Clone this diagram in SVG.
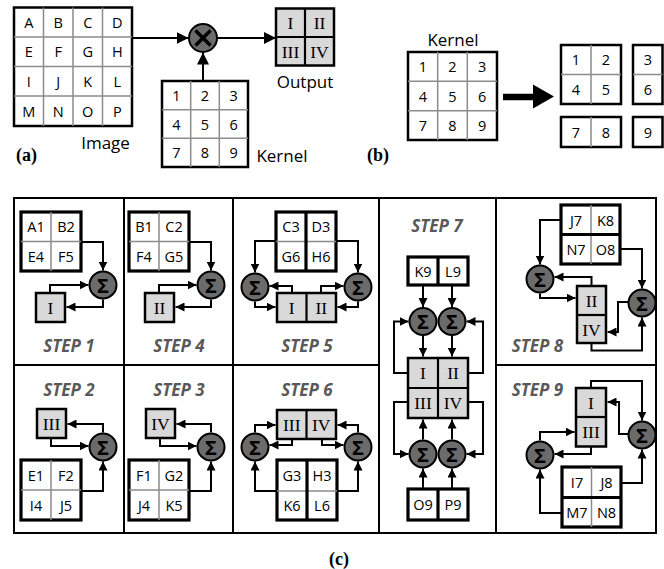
<svg xmlns="http://www.w3.org/2000/svg" width="664" height="569" viewBox="0 0 664 569">
<defs>
<marker id="ah" viewBox="0 0 10 10" refX="10" refY="5" markerWidth="9" markerHeight="9" markerUnits="userSpaceOnUse" orient="auto"><path d="M0,0 L10,5 L0,10 z" fill="#000"/></marker>
<marker id="ahA" viewBox="0 0 10 10" refX="10" refY="5" markerWidth="12" markerHeight="12" markerUnits="userSpaceOnUse" orient="auto"><path d="M0,0 L10,5 L0,10 z" fill="#000"/></marker>
</defs>
<style>
.box{fill:#fff;stroke:#000;stroke-width:2.5}
.ibox{fill:#fff;stroke:#000;stroke-width:3.2}
.g{stroke:#8c8c8c;stroke-width:1.5;fill:none}
.dv{stroke:#000;stroke-width:3.2;fill:none}
.out{fill:#d9d9d9;stroke:#000;stroke-width:2.5}
.odv{stroke:#000;stroke-width:2.2;fill:none}
.sum{fill:#6b6b6b;stroke:#000;stroke-width:2}
.c{fill:none;stroke:#000;stroke-width:2;marker-end:url(#ah)}
.ca{fill:none;stroke:#000;stroke-width:2;marker-end:url(#ahA)}
.fr{fill:none;stroke:#000;stroke-width:2}
text{font-family:"Open Sans","DejaVu Sans",sans-serif;text-anchor:middle;dominant-baseline:central}
.t{font-size:14.5px;fill:#000}
.lb{font-size:17px;fill:#000}
.r{font-family:"Liberation Serif","Times New Roman",serif;font-size:17.5px;fill:#000}
.st{font-size:17px;font-weight:bold;font-style:italic;fill:#595959}
.s{font-size:20px;font-weight:bold;fill:#000}
.p{font-family:"Liberation Serif","Times New Roman",serif;font-size:18px;font-weight:bold;dominant-baseline:auto}
</style>

<!-- (a) -->
<g id="image">
<rect class="box" x="14" y="7.5" width="118" height="118.5"/>
<path class="g" d="M43.5,7.5V126M73,7.5V126M102.5,7.5V126M14,37H132M14,66.5H132M14,96H132"/>
<g class="t">
<text x="28.75" y="22.25">A</text><text x="58.25" y="22.25">B</text><text x="87.75" y="22.25">C</text><text x="117.25" y="22.25">D</text>
<text x="28.75" y="51.75">E</text><text x="58.25" y="51.75">F</text><text x="87.75" y="51.75">G</text><text x="117.25" y="51.75">H</text>
<text x="28.75" y="81.25">I</text><text x="58.25" y="81.25">J</text><text x="87.75" y="81.25">K</text><text x="117.25" y="81.25">L</text>
<text x="28.75" y="111">M</text><text x="58.25" y="111">N</text><text x="87.75" y="111">O</text><text x="117.25" y="111">P</text>
</g>
<text class="lb" x="105.5" y="142">Image</text>
</g>
<g id="multiply">
<circle class="sum" cx="203" cy="38" r="14"/>
<path d="M195.5,30.5L210.5,45.5M210.5,30.5L195.5,45.5" stroke="#000" stroke-width="3.5"/>
</g>
<g id="output-a">
<rect class="out" x="276" y="8.5" width="58" height="57"/>
<path class="odv" d="M305,8.5V65.5M276,37H334"/>
<text class="r" x="290.5" y="23">I</text><text class="r" x="319.5" y="23">II</text>
<text class="r" x="290.5" y="51.5">III</text><text class="r" x="319.5" y="51.5">IV</text>
<text class="lb" x="305" y="81">Output</text>
</g>
<g id="kernel-a">
<rect class="box" x="162" y="81" width="86" height="86"/>
<path class="g" d="M190.7,81V167M219.3,81V167M162,109.7H248M162,138.3H248"/>
<g class="t">
<text x="176.3" y="95.3">1</text><text x="205" y="95.3">2</text><text x="233.7" y="95.3">3</text>
<text x="176.3" y="124">4</text><text x="205" y="124">5</text><text x="233.7" y="124">6</text>
<text x="176.3" y="152.7">7</text><text x="205" y="152.7">8</text><text x="233.7" y="152.7">9</text>
</g>
<text class="lb" x="282" y="155">Kernel</text>
</g>
<g id="connectors-a">
<path class="ca" d="M132,38H188.5"/>
<path class="ca" d="M217,38H276"/>
<path class="ca" d="M203,81V52.5"/>
</g>
<text class="p" x="26.5" y="161">(a)</text>

<!-- (b) -->
<g id="kernel-b">
<text class="lb" x="453" y="39">Kernel</text>
<rect class="box" x="408" y="52" width="89" height="88"/>
<path class="g" d="M437.7,52V140M467.3,52V140M408,81.3H497M408,110.7H497"/>
<g class="t">
<text x="422.8" y="66.7">1</text><text x="452.5" y="66.7">2</text><text x="482.2" y="66.7">3</text>
<text x="422.8" y="96">4</text><text x="452.5" y="96">5</text><text x="482.2" y="96">6</text>
<text x="422.8" y="125.3">7</text><text x="452.5" y="125.3">8</text><text x="482.2" y="125.3">9</text>
</g>
</g>
<g id="split-arrow">
<path d="M503,97H535" stroke="#000" stroke-width="6.5"/>
<path d="M533,84.5L554,96.5L533,108.5z" fill="#000"/>
</g>
<g id="split-12-45">
<rect class="box" x="561" y="45" width="60" height="59"/>
<path class="g" d="M591,45V104M561,74.5H621"/>
<g class="t"><text x="576" y="59.75">1</text><text x="606" y="59.75">2</text><text x="576" y="89.25">4</text><text x="606" y="89.25">5</text></g>
</g>
<g id="split-3-6">
<rect class="box" x="633" y="45" width="29.5" height="59"/>
<path class="g" d="M633,74.5H662.5"/>
<g class="t"><text x="648" y="59.75">3</text><text x="648" y="89.25">6</text></g>
</g>
<g id="split-7-8">
<rect class="box" x="561" y="117" width="60" height="30"/>
<path class="g" d="M591,117V147"/>
<g class="t"><text x="576" y="132">7</text><text x="606" y="132">8</text></g>
</g>
<g id="split-9">
<rect class="box" x="633" y="117" width="29.5" height="30"/>
<text class="t" x="648" y="132">9</text>
</g>
<text class="p" x="378" y="161">(b)</text>

<!-- (c) frame -->
<g id="frame">
<rect class="fr" x="14" y="198" width="642" height="335"/>
<path class="fr" d="M124,198V533M233,198V533M379,198V533M496,198V533M14,365H379M496,365H656"/>
</g>

<!-- STEP 1 -->
<g id="step1">
<rect class="ibox" x="21" y="212" width="60" height="59"/>
<path class="g" d="M51,212V271M21,241.5H81"/>
<g class="t"><text x="36" y="226.75">A1</text><text x="66" y="226.75">B2</text><text x="36" y="256.25">E4</text><text x="66" y="256.25">F5</text></g>
<circle class="sum" cx="103" cy="285" r="13.5"/><text class="s" x="103" y="285">Σ</text>
<rect class="out" x="36" y="293" width="29" height="29"/><text class="r" x="50.5" y="307.5">I</text>
<text class="st" x="69" y="345">STEP 1</text>
</g>
<!-- STEP 4 -->
<g id="step4">
<rect class="ibox" x="129" y="212" width="60" height="59"/>
<path class="g" d="M159,212V271M129,241.5H189"/>
<g class="t"><text x="144" y="226.75">B1</text><text x="174" y="226.75">C2</text><text x="144" y="256.25">F4</text><text x="174" y="256.25">G5</text></g>
<circle class="sum" cx="211" cy="285" r="13.5"/><text class="s" x="211" y="285">Σ</text>
<rect class="out" x="145" y="293" width="29" height="29"/><text class="r" x="159.5" y="307.5">II</text>
<text class="st" x="179" y="345">STEP 4</text>
</g>
<!-- STEP 2 -->
<g id="step2">
<rect class="out" x="37" y="409" width="29" height="29"/><text class="r" x="51.5" y="423.5">III</text>
<circle class="sum" cx="103" cy="447" r="13.5"/><text class="s" x="103" y="447">Σ</text>
<rect class="ibox" x="21" y="460" width="60" height="60"/>
<path class="g" d="M51,460V520M21,490H81"/>
<g class="t"><text x="36" y="475">E1</text><text x="66" y="475">F2</text><text x="36" y="505">I4</text><text x="66" y="505">J5</text></g>
<text class="st" x="69" y="389">STEP 2</text>
</g>
<!-- STEP 3 -->
<g id="step3">
<rect class="out" x="146" y="409" width="29" height="29"/><text class="r" x="160.5" y="423.5">IV</text>
<circle class="sum" cx="211" cy="447" r="13.5"/><text class="s" x="211" y="447">Σ</text>
<rect class="ibox" x="129" y="460" width="60" height="60"/>
<path class="g" d="M159,460V520M129,490H189"/>
<g class="t"><text x="144" y="475">F1</text><text x="174" y="475">G2</text><text x="144" y="505">J4</text><text x="174" y="505">K5</text></g>
<text class="st" x="179" y="389">STEP 3</text>
</g>
<!-- STEP 5 -->
<g id="step5">
<rect class="ibox" x="276" y="212" width="60" height="59"/>
<path class="g" d="M276,241.5H336"/><path class="dv" d="M306,212V271"/>
<g class="t"><text x="291" y="226.75">C3</text><text x="321" y="226.75">D3</text><text x="291" y="256.25">G6</text><text x="321" y="256.25">H6</text></g>
<circle class="sum" cx="255" cy="287" r="13.5"/><text class="s" x="255" y="287">Σ</text>
<circle class="sum" cx="358" cy="287" r="13.5"/><text class="s" x="358" y="287">Σ</text>
<rect class="out" x="277" y="293" width="59" height="29"/><path class="odv" d="M306.5,293V322"/>
<text class="r" x="291.75" y="307.5">I</text><text class="r" x="321.25" y="307.5">II</text>
<text class="st" x="307" y="345">STEP 5</text>
</g>
<!-- STEP 6 -->
<g id="step6">
<rect class="out" x="277" y="410" width="59" height="29"/><path class="odv" d="M306.5,410V439"/>
<text class="r" x="291.75" y="424.5">III</text><text class="r" x="321.25" y="424.5">IV</text>
<circle class="sum" cx="255" cy="447" r="13.5"/><text class="s" x="255" y="447">Σ</text>
<circle class="sum" cx="358" cy="447" r="13.5"/><text class="s" x="358" y="447">Σ</text>
<rect class="ibox" x="277" y="460" width="60" height="60"/>
<path class="g" d="M277,491H337"/><path class="dv" d="M307,460V520"/>
<g class="t"><text x="292" y="475.5">G3</text><text x="322" y="475.5">H3</text><text x="292" y="505.5">K6</text><text x="322" y="505.5">L6</text></g>
<text class="st" x="307" y="389">STEP 6</text>
</g>
<!-- STEP 7 -->
<g id="step7">
<text class="st" x="437" y="225">STEP 7</text>
<rect class="ibox" x="408" y="257" width="60" height="28"/><path class="dv" d="M438,257V285"/>
<g class="t"><text x="423" y="271">K9</text><text x="453" y="271">L9</text></g>
<circle class="sum" cx="423" cy="321.5" r="13.5"/><text class="s" x="423" y="321.5">Σ</text>
<circle class="sum" cx="452" cy="321.5" r="13.5"/><text class="s" x="452" y="321.5">Σ</text>
<rect class="out" x="408" y="358" width="60" height="60"/><path class="odv" d="M438,358V418M408,388H468"/>
<text class="r" x="423" y="373">I</text><text class="r" x="453" y="373">II</text>
<text class="r" x="423" y="403">III</text><text class="r" x="453" y="403">IV</text>
<circle class="sum" cx="423" cy="454" r="13.5"/><text class="s" x="423" y="454">Σ</text>
<circle class="sum" cx="452" cy="454" r="13.5"/><text class="s" x="452" y="454">Σ</text>
<rect class="ibox" x="408" y="489" width="60" height="31"/><path class="dv" d="M438,489V520"/>
<g class="t"><text x="423" y="504.5">O9</text><text x="453" y="504.5">P9</text></g>
</g>
<!-- STEP 8 -->
<g id="step8">
<rect class="ibox" x="561" y="205" width="59" height="59"/>
<path class="g" d="M591,205V264"/><path class="dv" d="M561,234.5H620"/>
<g class="t"><text x="576" y="220">J7</text><text x="605.5" y="220">K8</text><text x="576" y="249.5">N7</text><text x="605.5" y="249.5">O8</text></g>
<circle class="sum" cx="540" cy="279" r="13.5"/><text class="s" x="540" y="279">Σ</text>
<circle class="sum" cx="642" cy="303" r="13.5"/><text class="s" x="642" y="303">Σ</text>
<rect class="out" x="577" y="286" width="29" height="57"/><path class="odv" d="M577,315H606"/>
<text class="r" x="591.5" y="300.5">II</text><text class="r" x="591.5" y="329.5">IV</text>
<text class="st" x="537.5" y="345">STEP 8</text>
</g>
<!-- STEP 9 -->
<g id="step9">
<rect class="out" x="576" y="388" width="30" height="58.5"/><path class="odv" d="M576,417H606"/>
<text class="r" x="591" y="402.5">I</text><text class="r" x="591" y="432">III</text>
<circle class="sum" cx="642" cy="435" r="13.5"/><text class="s" x="642" y="435">Σ</text>
<circle class="sum" cx="540" cy="455" r="13.5"/><text class="s" x="540" y="455">Σ</text>
<rect class="ibox" x="562" y="467" width="59" height="60"/>
<path class="g" d="M591.5,467V527"/><path class="dv" d="M562,497.5H621"/>
<g class="t"><text x="577" y="482">I7</text><text x="606.5" y="482">J8</text><text x="577" y="512">M7</text><text x="606.5" y="512">N8</text></g>
<text class="st" x="537.5" y="389">STEP 9</text>
</g>

<g id="connectors-c">
<!-- step1 -->
<path class="c" d="M81,242H103V270.5"/>
<path class="c" d="M50,293V285H88.5"/>
<path class="c" d="M103,299.5V307H66.5"/>
<!-- step4 -->
<path class="c" d="M189,242H211V270.5"/>
<path class="c" d="M159,293V285H196.5"/>
<path class="c" d="M211,299.5V307H175.5"/>
<!-- step2 -->
<path class="c" d="M103,432.5V424H67.5"/>
<path class="c" d="M51,438V446H88.5"/>
<path class="c" d="M81,491H103V461.5"/>
<!-- step3 -->
<path class="c" d="M211,432.5V424H176.5"/>
<path class="c" d="M160,438V446H196.5"/>
<path class="c" d="M189,491H211V461.5"/>
<!-- step5 -->
<path class="c" d="M276,241H255V272.5"/>
<path class="c" d="M336,241H358V272.5"/>
<path class="c" d="M292,293V286H269.5"/>
<path class="c" d="M255,301.5V307H275.5"/>
<path class="c" d="M321,293V286H343.5"/>
<path class="c" d="M358,301.5V307H337.5"/>
<!-- step6 -->
<path class="c" d="M255,432.5V425H275.5"/>
<path class="c" d="M292,439V445H269.5"/>
<path class="c" d="M358,432.5V425H337.5"/>
<path class="c" d="M322,439V445H343.5"/>
<path class="c" d="M277,491H255V461.5"/>
<path class="c" d="M337,491H358V461.5"/>
<!-- step7 -->
<path class="c" d="M423,285V307"/>
<path class="c" d="M452,285V307"/>
<path class="c" d="M423,336V356.5"/>
<path class="c" d="M452,336V356.5"/>
<path class="c" d="M408,373H394V321.5H408.5"/>
<path class="c" d="M468,373H483V321.5H466.5"/>
<path class="c" d="M408,402H394V454H408.5"/>
<path class="c" d="M468,402H483V454H466.5"/>
<path class="c" d="M423,439.5V419.5"/>
<path class="c" d="M452,439.5V419.5"/>
<path class="c" d="M423,489V468.5"/>
<path class="c" d="M452,489V468.5"/>
<!-- step8 -->
<path class="c" d="M561,220H540V264.5"/>
<path class="c" d="M620,249H642V288.5"/>
<path class="c" d="M591.5,286V277H554.5"/>
<path class="c" d="M540,293.5V298H575.5"/>
<path class="c" d="M628.5,302H618V332H607.5"/>
<path class="c" d="M591.5,343V350.5H642V317.5"/>
<!-- step9 -->
<path class="c" d="M591,388V381H642V420.5"/>
<path class="c" d="M628.5,434H619V402H607.5"/>
<path class="c" d="M540,440.5V432H574.5"/>
<path class="c" d="M591,446.5V454H554.5"/>
<path class="c" d="M621,483H642V449.5"/>
<path class="c" d="M562,513H540V469.5"/>
</g>
<text class="p" x="339" y="565">(c)</text>
</svg>
